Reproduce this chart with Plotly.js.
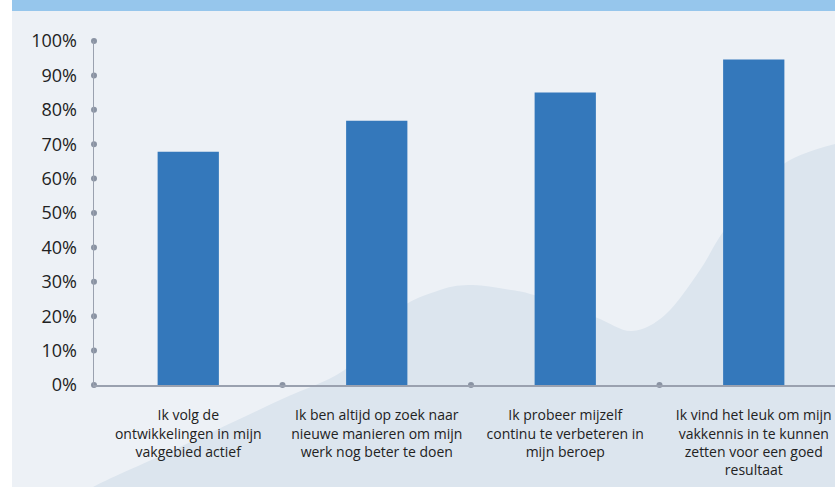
<!DOCTYPE html>
<html>
<head>
<meta charset="utf-8">
<script src="https://cdn.plot.ly/plotly-3.0.1.min.js"></script>
<style>html,body{margin:0;padding:0;background:#fff;}#chart{width:835px;height:487px;}</style>
</head>
<body>
<div id="chart"></div>
<script>
// ---- data ----
const categories = [
  "Ik volg de<br>ontwikkelingen in mijn<br>vakgebied actief",
  "Ik ben altijd op zoek naar<br>nieuwe manieren om mijn<br>werk nog beter te doen",
  "Ik probeer mijzelf<br>continu te verbeteren in<br>mijn beroep",
  "Ik vind het leuk om mijn<br>vakkennis in te kunnen<br>zetten voor een goed<br>resultaat"
];
const values = [67.8, 76.8, 85.0, 94.6];
const yTicks = [0, 10, 20, 30, 40, 50, 60, 70, 80, 90, 100];
const yTickLabels = ["0%", "10%", "20%", "30%", "40%", "50%", "60%", "70%", "80%", "90%", "100%"];

// ---- layout geometry (pixels) ----
const W = 835, H = 487;
const L = 94, R = 0, T = 41, B = 102;
const plotW = W - L - R, plotH = H - T - B;
const px2x = x => (x - L) / plotW;
const px2y = y => (H - B - y) / plotH;

const xIdx = categories.map((c, i) => i);

// decorative wave (background)
const wavePts = [[60,510],[93,487],[180,447],[280,400],[347,368],[395,312],[440,290],[472,285],[505,289],
  [534,295],[595,317],[632,331],[666,314],[700,270],[723,232],[760,186],[790,160],[835,144],[860,142]];
function crPath(pts){
  let d = "M " + px2x(pts[0][0]) + " " + px2y(pts[0][1]);
  for (let i = 0; i < pts.length - 1; i++) {
    const p0 = pts[Math.max(i-1,0)], p1 = pts[i], p2 = pts[i+1], p3 = pts[Math.min(i+2, pts.length-1)];
    const c1 = [p1[0] + (p2[0]-p0[0])/6, p1[1] + (p2[1]-p0[1])/6];
    const c2 = [p2[0] - (p3[0]-p1[0])/6, p2[1] - (p3[1]-p1[1])/6];
    d += " C " + px2x(c1[0]) + " " + px2y(c1[1]) + " " + px2x(c2[0]) + " " + px2y(c2[1]) + " " + px2x(p2[0]) + " " + px2y(p2[1]);
  }
  d += " L " + px2x(860) + " " + px2y(520) + " L " + px2x(60) + " " + px2y(520) + " Z";
  return d;
}

const shapes = [
  {type:"rect", xref:"paper", yref:"paper", x0:px2x(12), x1:px2x(W+5), y0:px2y(H+5), y1:px2y(11),
   fillcolor:"#edf1f6", line:{width:0}, layer:"below"},
  {type:"rect", xref:"paper", yref:"paper", x0:px2x(12), x1:px2x(W+5), y0:px2y(11), y1:px2y(-5),
   fillcolor:"#96c6ec", line:{width:0}, layer:"below"},
  {type:"path", xref:"paper", yref:"paper", path:crPath(wavePts),
   fillcolor:"#dce5ee", line:{width:0}, layer:"below"}
];

// dots on axes
const dotX = yTicks.map(() => -0.5).concat(xIdx.slice(1).map(i => i - 0.5));
const dotY = yTicks.slice().concat(xIdx.slice(1).map(() => 0));

const traces = [
  {type:"bar", x:xIdx, y:values, width:0.325, marker:{color:"#3478bb"}, hoverinfo:"skip"},
  {type:"scatter", mode:"markers", x:dotX, y:dotY, cliponaxis:false,
   marker:{color:"#8a93a3", size:6}, hoverinfo:"skip"}
];

const layout = {
  width: W, height: H,
  margin: {l:L, r:R, t:T, b:B, pad:0},
  paper_bgcolor: "#ffffff",
  plot_bgcolor: "rgba(0,0,0,0)",
  showlegend: false,
  shapes: shapes,
  xaxis: {
    type:"linear", range:[-0.5, -0.5 + plotW/188.5], tickvals:xIdx, ticktext:categories,
    showline:true, linecolor:"#9aa1af", linewidth:1.5, showgrid:false, zeroline:false,
    ticks:"", ticklabelstandoff:17, fixedrange:true,
    tickfont:{family:"Open Sans, sans-serif", size:14, color:"#222222"}
  },
  yaxis: {
    range:[0,100], tickvals:yTicks, ticktext:yTickLabels,
    showline:true, linecolor:"#9aa1af", linewidth:1.5, showgrid:false, zeroline:false,
    ticks:"", ticklabelstandoff:12, fixedrange:true,
    tickfont:{family:"Open Sans, sans-serif", size:18, color:"#222222"}
  }
};

Plotly.newPlot("chart", traces, layout, {displayModeBar:false, staticPlot:true});
</script>
</body>
</html>
